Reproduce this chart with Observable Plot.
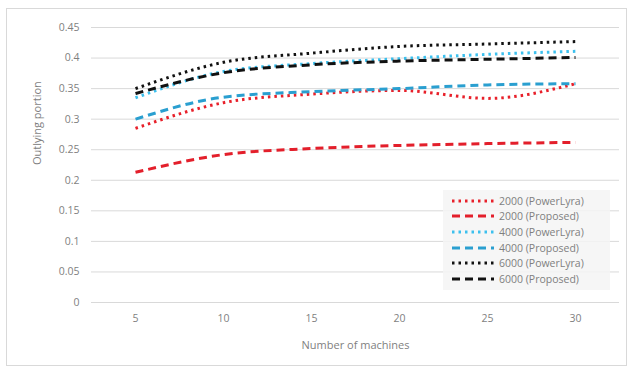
<!DOCTYPE html>
<html><head><meta charset="utf-8">
<script src="https://cdn.jsdelivr.net/npm/d3@7"></script>
<script src="https://cdn.jsdelivr.net/npm/@observablehq/plot@0.6"></script>
<style>
html,body{margin:0;padding:0;background:#fff;}
#wrap{position:relative;width:633px;height:369px;font-family:"Open Sans",sans-serif;}
#frame{position:absolute;left:6px;top:8px;width:621px;height:358px;border:1px solid #d9d9d9;box-sizing:border-box;}
#legend{position:absolute;left:443px;top:190px;width:167px;height:100px;background:rgba(244,244,244,0.85);box-sizing:border-box;padding-top:3px;}
.row{height:15.6px;display:flex;align-items:center;font-size:10.5px;color:#7f7f7f;white-space:nowrap;}
.row svg{margin-left:9px;margin-right:5px;}
</style></head>
<body><div id="wrap"><div id="frame"></div></div>
<script>
const machines = [5, 10, 15, 20, 25, 30];
const seriesNames = ["2000 (PowerLyra)", "2000 (Proposed)", "4000 (PowerLyra)", "4000 (Proposed)", "6000 (PowerLyra)", "6000 (Proposed)"];
const powerLyra2000 = [0.285, 0.327, 0.341, 0.347, 0.334, 0.358];
const proposed2000  = [0.213, 0.242, 0.252, 0.257, 0.260, 0.262];
const powerLyra4000 = [0.335, 0.378, 0.391, 0.399, 0.406, 0.411];
const proposed4000  = [0.300, 0.336, 0.345, 0.350, 0.356, 0.358];
const powerLyra6000 = [0.350, 0.393, 0.408, 0.419, 0.423, 0.427];
const proposed6000  = [0.342, 0.376, 0.389, 0.395, 0.398, 0.401];
const yTicks = [0, 0.05, 0.1, 0.15, 0.2, 0.25, 0.3, 0.35, 0.4, 0.45];
const yTickLabels = ["0", "0.05", "0.1", "0.15", "0.2", "0.25", "0.3", "0.35", "0.4", "0.45"];
const xLabel = "Number of machines";
const yLabel = "Outlying portion";

const seriesValues = [powerLyra2000, proposed2000, powerLyra4000, proposed4000, powerLyra6000, proposed6000];
const styles = [
  {color: "#e8202a", dash: "2.5,4"},
  {color: "#e31f2b", dash: "8,5"},
  {color: "#3cc0ee", dash: "2.5,4"},
  {color: "#2a9fd0", dash: "8,5"},
  {color: "#111111", dash: "2.5,4"},
  {color: "#111111", dash: "8,5"}
];

const marks = [
  Plot.ruleY(yTicks, {stroke: "#d9d9d9", strokeWidth: 1}),
  Plot.axisY(yTicks, {tickSize: 0, tickPadding: 12, tickFormat: (d, i) => yTickLabels[i], fontSize: 10.5, fill: "#7f7f7f", label: null}),
  Plot.axisX(machines, {tickSize: 0, tickPadding: 12, fontSize: 10.5, fill: "#7f7f7f", label: null}),
  Plot.text([yLabel], {frameAnchor: "left", dx: -54, rotate: -90, fontSize: 11, fill: "#7f7f7f"}),
  Plot.text([xLabel], {frameAnchor: "bottom", dy: 46, fontSize: 11, fill: "#7f7f7f"})
];
seriesValues.forEach((vals, s) => {
  const data = machines.map((m, i) => ({x: m, y: vals[i]}));
  marks.push(Plot.line(data, {x: "x", y: "y", stroke: styles[s].color, strokeWidth: 3, strokeDasharray: styles[s].dash, strokeLinecap: "butt", curve: "monotone-x"}));
});

const chart = Plot.plot({
  width: 633, height: 369,
  marginLeft: 91, marginRight: 14, marginTop: 27, marginBottom: 67,
  style: {fontFamily: "'Open Sans', sans-serif", background: "transparent"},
  x: {type: "point", domain: machines, padding: 0.5},
  y: {domain: [0, 0.45]},
  marks
});
chart.style.position = "absolute"; chart.style.left = "0"; chart.style.top = "0";
const wrap = document.getElementById("wrap");
wrap.appendChild(chart);

const legend = document.createElement("div");
legend.id = "legend";
seriesNames.forEach((name, s) => {
  const row = document.createElement("div");
  row.className = "row";
  row.innerHTML = `<svg width="42" height="6"><line x1="0" y1="3" x2="42" y2="3" stroke="${styles[s].color}" stroke-width="3" stroke-dasharray="${styles[s].dash}"/></svg><span>${name}</span>`;
  legend.appendChild(row);
});
wrap.appendChild(legend);
</script></body></html>
